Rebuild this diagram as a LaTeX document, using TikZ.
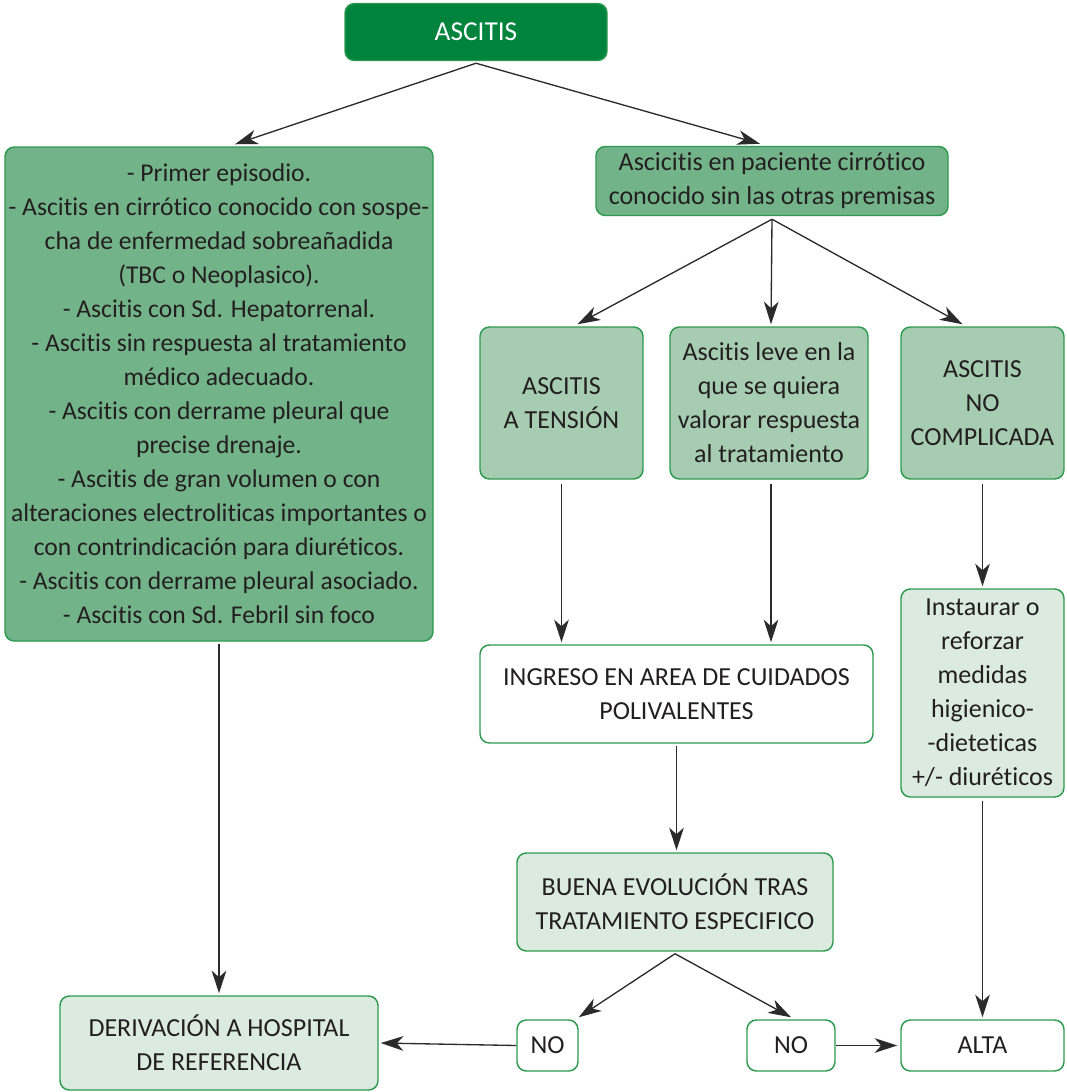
\documentclass[tikz,border=0pt]{standalone}
\usepackage{fontspec}
\setmainfont[Ligatures=NoCommon]{Carlito}
\usetikzlibrary{arrows.meta,calc}
\definecolor{verdeosc}{HTML}{00843D}
\definecolor{verdemed}{HTML}{72B38A}
\definecolor{verdeclaro}{HTML}{A6CDB2}
\definecolor{verdepalido}{HTML}{DCEBDF}
\definecolor{borde}{HTML}{2E9A50}
\definecolor{texto}{HTML}{231F20}
\definecolor{gris}{HTML}{2B2B2B}
\begin{document}
\begin{tikzpicture}[x=0.75pt,y=-0.75pt,
    caja/.style={draw=borde, line width=1.1pt, rounded corners=7pt, align=center,
        text=texto, font=\fontsize{19.5}{25.5}\selectfont, inner sep=0pt},
    flecha/.style={draw=gris, line width=1pt, -{Stealth[length=17pt,width=11pt,inset=5pt]}}]
    \useasboundingbox (0,0) rectangle (1067,1092);
    % cajas
    \node[caja, fill=verdeosc, text=white, font=\fontsize{20.5}{25.5}\selectfont, minimum width=196.5pt, minimum height=42.75pt] (asc) at (476,32) {ASCITIS};
    \node[caja, fill=verdemed, font=\fontsize{19.2}{25.5}\selectfont, minimum width=321pt, minimum height=370.5pt] (prim) at (219,394) {- Primer episodio.\\
        - Ascitis en cirrótico conocido con sospe-\\cha de enfermedad sobreañadida\\(TBC o Neoplasico).\\
        - Ascitis con Sd. Hepatorrenal.\\- Ascitis sin respuesta al tratamiento\\médico adecuado.\\
        - Ascitis con derrame pleural que\\precise drenaje.\\- Ascitis de gran volumen o con\\
        alteraciones electroliticas importantes o\\con contrindicación para diuréticos.\\
        - Ascitis con derrame pleural asociado.\\- Ascitis con Sd. Febril sin foco};
    \node[caja, fill=verdemed, minimum width=264pt, minimum height=51.75pt] (cirr) at (772,181) {Ascicitis en paciente cirrótico\\conocido sin las otras premisas};
    \node[caja, fill=verdeclaro, minimum width=122.25pt, minimum height=114pt] (tens) at (561.5,403) {ASCITIS\\A TENSIÓN};
    \node[caja, fill=verdeclaro, minimum width=148.5pt, minimum height=114pt] (leve) at (769,403) {Ascitis leve en la\\que se quiera\\valorar respuesta\\al tratamiento};
    \node[caja, fill=verdeclaro, minimum width=122.25pt, minimum height=114pt] (nocomp) at (982.5,403) {ASCITIS\\NO\\COMPLICADA};
    \node[caja, fill=white, minimum width=294.75pt, minimum height=73.5pt] (ingr) at (676.5,694) {INGRESO EN AREA DE CUIDADOS\\POLIVALENTES};
    \node[caja, fill=verdepalido, minimum width=122.25pt, minimum height=156pt] (inst) at (982.5,693) {Instaurar o\\reforzar\\medidas\\higienico-\\-dieteticas\\+/- diuréticos};
    \node[caja, fill=verdepalido, minimum width=237pt, minimum height=73.5pt] (buena) at (675,902) {BUENA EVOLUCIÓN TRAS\\TRATAMIENTO ESPECIFICO};
    \node[caja, fill=verdepalido, minimum width=238.5pt, minimum height=70.5pt] (deriv) at (219,1043) {DERIVACIÓN A HOSPITAL\\DE REFERENCIA};
    \node[caja, fill=white, minimum width=45.75pt, minimum height=38.25pt] (no1) at (547.5,1045.5) {NO};
    \node[caja, fill=white, minimum width=66pt, minimum height=38.25pt] (no2) at (791,1045.5) {NO};
    \node[caja, fill=white, minimum width=122.25pt, minimum height=38.25pt] (alta) at (982.5,1045.5) {ALTA};
    % flechas
    \coordinate (asc-s) at ([shift={(0,2)}]asc.south);
    \coordinate (cirr-s) at ([shift={(0,3)}]cirr.south);
    \coordinate (buena-s) at ([shift={(0,2)}]buena.south);
    \draw[flecha] (asc-s) -- ([shift={(16,-2)}]prim.north);
    \draw[flecha] (asc-s) -- ([shift={(-12,-2)}]cirr.north);
    \draw[flecha] (cirr-s) -- ([shift={(16,-2)}]tens.north);
    \draw[flecha] (cirr-s) -- ([shift={(2,-2)}]leve.north);
    \draw[flecha] (cirr-s) -- ([shift={(-20,-2)}]nocomp.north);
    \draw[flecha] ([shift={(0,4)}]tens.south) -- ($(tens.south |- ingr.north)+(0,-2)$);
    \draw[flecha] ([shift={(2,4)}]leve.south) -- ($([xshift=1.5pt]leve.south |- ingr.north)+(0,-2)$);
    \draw[flecha] ([shift={(0,4)}]nocomp.south) -- ([shift={(0,-2)}]inst.north);
    \draw[flecha] ([shift={(0,2)}]ingr.south) -- ([shift={(0,-2)}]ingr.south |- buena.north);
    \draw[flecha] (buena-s) -- ([shift={(0,-2)}]no1.north east);
    \draw[flecha] (buena-s) -- ([shift={(0,-2)}]no2.north);
    \draw[flecha] ([shift={(0,2)}]prim.south) -- ([shift={(0,-2)}]deriv.north);
    \draw[flecha] (no1.west) -- ([shift={(2,0)}]deriv.east);
    \draw[flecha] (no2.east) -- ([shift={(-3,0)}]alta.west);
    \draw[flecha] ([shift={(0,3)}]inst.south) -- ([shift={(0,-2)}]alta.north);
\end{tikzpicture}
\end{document}
